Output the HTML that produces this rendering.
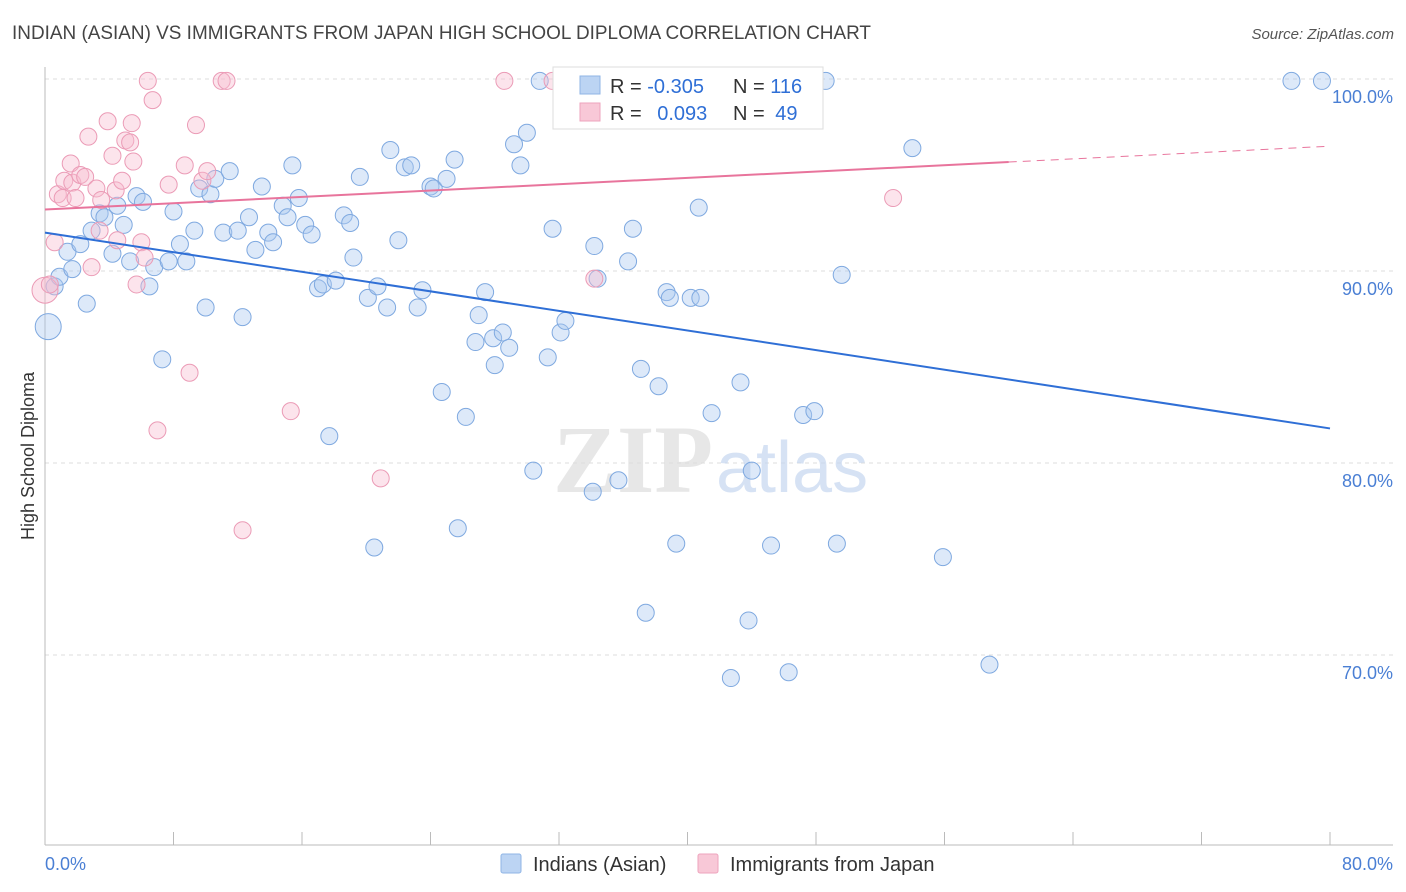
<!DOCTYPE html>
<html><head><meta charset="utf-8">
<style>
body{margin:0;background:#fff;font-family:"Liberation Sans",sans-serif;}
svg{display:block}
</style></head>
<body>
<svg id="chart" width="1406" height="892">
<text x="12" y="39" font-size="19" fill="#444" textLength="859" lengthAdjust="spacingAndGlyphs">INDIAN (ASIAN) VS IMMIGRANTS FROM JAPAN HIGH SCHOOL DIPLOMA CORRELATION CHART</text>
<text x="1394" y="39" font-size="15" fill="#555" font-style="italic" text-anchor="end">Source: ZipAtlas.com</text>
<text x="34" y="456" font-size="18" fill="#333" text-anchor="middle" transform="rotate(-90 34 456)">High School Diploma</text>
<g id="grid"></g>
<g>
<text x="553" y="492" font-family="Liberation Serif,serif" font-size="96" font-weight="bold" fill="#ddd" fill-opacity="0.7">ZIP</text>
<text x="716" y="492" font-size="72" fill="#c5d6ef" fill-opacity="0.7">atlas</text>
</g>
<g id="pts"></g>
<g id="lines"></g>
<g>
<rect x="553" y="67" width="270" height="62" fill="#fff" stroke="#ddd"/>
<rect x="580" y="76" width="20" height="18" fill="#bcd4f3" stroke="#8fb5e6"/>
<rect x="580" y="103" width="20" height="18" fill="#f8c8d7" stroke="#eea3bd"/>
<text x="610" y="93" font-size="20" fill="#333">R = <tspan fill="#2f6fd6">-0.305</tspan></text>
<text x="733" y="93" font-size="20" fill="#333">N = <tspan fill="#2f6fd6">116</tspan></text>
<text x="610" y="120" font-size="20" fill="#333">R = <tspan fill="#2f6fd6" dx="10">0.093</tspan></text>
<text x="733" y="120" font-size="20" fill="#333">N = <tspan fill="#2f6fd6" dx="5">49</tspan></text>
</g>
<g>
<rect x="501" y="854" width="20" height="19" fill="#bcd4f3" stroke="#8fb5e6" rx="2"/>
<text x="533" y="871" font-size="20" fill="#333">Indians (Asian)</text>
<rect x="698" y="854" width="20" height="19" fill="#f8c8d7" stroke="#eea3bd" rx="2"/>
<text x="730" y="871" font-size="20" fill="#333">Immigrants from Japan</text>
</g>
</svg>
<script>
const xTicks=[0,10,20,30,40,50,60,70,80];
const yTicks=[70,80,90,100];
const blueX=[0.2,0.6,0.9,1.4,1.7,2.2,2.6,2.9,3.4,3.7,4.2,4.5,4.9,5.3,5.7,6.1,6.5,6.8,7.3,7.7,8.0,8.4,8.8,9.3,9.6,10.0,10.3,10.6,11.1,11.5,12.0,12.3,12.7,13.1,13.5,13.9,14.2,14.8,15.1,15.4,15.8,16.2,16.6,17.0,17.3,17.7,18.1,18.6,19.0,19.2,19.6,20.1,20.5,20.7,21.3,21.5,22.0,22.4,22.8,23.2,23.5,24.0,24.2,24.7,25.0,25.5,25.7,26.2,26.8,27.0,27.4,28.0,27.9,28.5,28.9,29.2,29.6,30.0,30.4,30.8,31.3,31.6,32.1,32.4,34.1,34.2,34.4,35.7,36.3,36.6,37.1,37.4,38.2,38.7,38.9,39.3,40.2,40.7,40.8,41.5,42.7,43.3,43.8,44.0,45.2,46.3,47.2,47.9,49.3,49.6,54.0,55.9,58.8,77.6,79.5,48.6,47.0];
const blueY=[87.1,89.2,89.7,91.0,90.1,91.4,88.3,92.1,93.0,92.8,90.9,93.4,92.4,90.5,93.9,93.6,89.2,90.2,85.4,90.5,93.1,91.4,90.5,92.1,94.3,88.1,94.0,94.8,92.0,95.2,92.1,87.6,92.8,91.1,94.4,92.0,91.5,93.4,92.8,95.5,93.8,92.4,91.9,89.1,89.3,81.4,89.5,92.9,92.5,90.7,94.9,88.6,75.6,89.2,88.1,96.3,91.6,95.4,95.5,88.1,89.0,94.4,94.3,83.7,94.8,95.8,76.6,82.4,86.3,87.7,88.9,85.1,86.5,86.8,86.0,96.6,95.5,97.2,79.6,99.9,85.5,92.2,86.8,87.4,78.5,91.3,89.6,79.1,90.5,92.2,84.9,72.2,84.0,88.9,88.6,75.8,88.6,93.3,88.6,82.6,68.8,84.2,71.8,79.6,75.7,69.1,82.5,82.7,75.8,89.8,96.4,75.1,69.5,99.9,99.9,99.9,99.9];
const pinkX=[0.0,0.3,0.6,0.8,1.1,1.2,1.6,1.7,1.9,2.2,2.5,2.7,2.9,3.2,3.4,3.5,3.9,4.2,4.4,4.5,4.8,5.0,5.3,5.5,5.7,6.0,6.2,6.4,6.7,7.0,7.7,8.7,9.0,9.4,9.8,10.1,11.0,11.3,12.3,15.3,20.9,28.6,31.6,34.2,37.7,52.8,43.2,5.4];
const pinkY=[89.0,89.3,91.5,94.0,93.8,94.7,95.6,94.6,93.8,95.0,94.9,97.0,90.2,94.3,92.1,93.7,97.8,96.0,94.2,91.6,94.7,96.8,96.7,95.7,89.3,91.5,90.7,99.9,98.9,81.7,94.5,95.5,84.7,97.6,94.7,95.2,99.9,99.9,76.5,82.7,79.2,99.9,99.9,89.6,99.9,93.8,99.9,97.7];
const blueBig=[0];
const pinkBig=[0];
const blueLine=[92.0,81.8];
const pinkLine=[93.2,96.5];
const pinkSolidEnd=60;
const ns="http://www.w3.org/2000/svg";
const X=v=>45+v*(1330-45)/80;
const Y=v=>79+(100-v)*19.2;
function mk(t,a,p){const e=document.createElementNS(ns,t);for(const k in a)e.setAttribute(k,a[k]);p.appendChild(e);return e;}
const grid=document.getElementById('grid');
yTicks.forEach(t=>{
 const l=mk('line',{x1:45,x2:1393,y1:Y(t),y2:Y(t),stroke:'#ddd','stroke-dasharray':'4 4'},grid);
 
 
 const tx=mk('text',{x:1393,y:Y(t)+24,'font-size':18,fill:'#4a7fd4','text-anchor':'end'},grid);
 tx.textContent=t.toFixed(1)+'%';
 
 
});
mk('line',{x1:45,x2:45,y1:67,y2:845,stroke:'#bbb'},grid);
mk('line',{x1:45,x2:1393,y1:845,y2:845,stroke:'#bbb'},grid);
for(let i=0;i<=10;i++){const v=i*8;mk('line',{x1:X(v),x2:X(v),y1:832,y2:845,stroke:'#bbb'},grid);}
[[0,'start',45],[80,'end',1393]].forEach(([v,a,x])=>{
 const tx=mk('text',{x:x,y:870,'font-size':18,fill:'#4a7fd4','text-anchor':a},grid);
 tx.textContent=v.toFixed(1)+'%';
 
 
});
const pts=document.getElementById('pts');
blueX.forEach((v,i)=>{
 const c=mk('circle',{cx:X(v),cy:Y(blueY[i]),r:blueBig.includes(i)?13:8.5,fill:'#a9c8f0','fill-opacity':0.4,stroke:'#7fa9e0','stroke-width':1},pts);
 
 
});
pinkX.forEach((v,i)=>{
 const c=mk('circle',{cx:X(v),cy:Y(pinkY[i]),r:pinkBig.includes(i)?13:8.5,fill:'#f7bccf','fill-opacity':0.4,stroke:'#eb9bb6','stroke-width':1},pts);
 
 
});
const lines=document.getElementById('lines');
const bl=mk('line',{x1:X(0),y1:Y(blueLine[0]),x2:X(80),y2:Y(blueLine[1]),stroke:'#2f6fd6','stroke-width':2},lines);


const pAt=v=>pinkLine[0]+(pinkLine[1]-pinkLine[0])*v/80;
const pl=mk('line',{x1:X(0),y1:Y(pAt(0)),x2:X(pinkSolidEnd),y2:Y(pAt(pinkSolidEnd)),stroke:'#e8749c','stroke-width':2},lines);


const pd=mk('line',{x1:X(pinkSolidEnd),y1:Y(pAt(pinkSolidEnd)),x2:X(80),y2:Y(pAt(80)),stroke:'#e8749c','stroke-width':1,'stroke-dasharray':'8 6'},lines);


</script>
</body></html>
